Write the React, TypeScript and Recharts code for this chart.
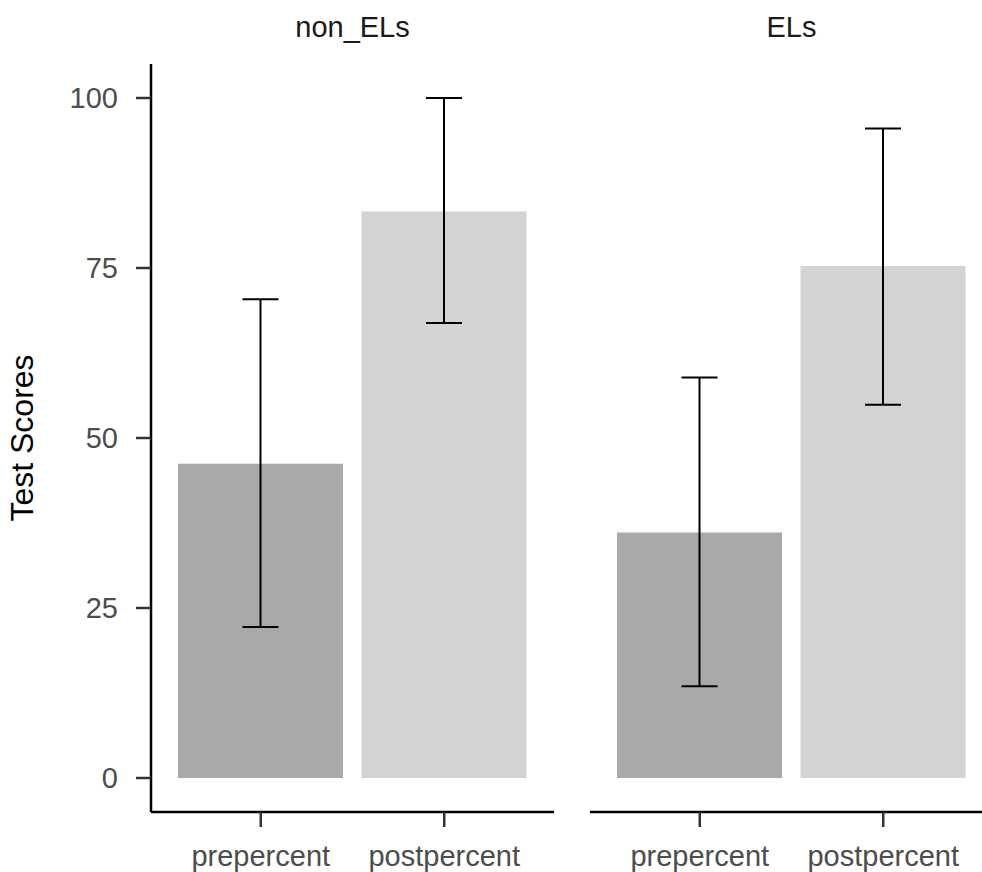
import React from 'react';
import { BarChart, Bar, XAxis, YAxis, ErrorBar, Cell, Label } from 'recharts';

const conditions = ['prepercent', 'postpercent'];
const panelNames = ['non_ELs', 'ELs'];
const nonELsMeans = [46.2, 83.3];
const nonELsLower = [22.2, 66.9];
const nonELsUpper = [70.4, 100];
const ELsMeans = [36.1, 75.3];
const ELsLower = [13.5, 54.9];
const ELsUpper = [58.9, 95.5];
const yTicks = [0, 25, 50, 75, 100];
const barColors = ['#A9A9A9', '#D3D3D3'];

const FONT = '"Liberation Sans", Arial, Helvetica, sans-serif';
const PANEL_W = 403;
const Y_AXIS_W = 151;
const PANEL2_LEFT = 590;

const buildRows = (means: number[], lower: number[], upper: number[]) =>
  conditions.map((c, i) => ({
    condition: c,
    score: means[i],
    err: [means[i] - lower[i], upper[i] - means[i]],
  }));

const panelRows = [
  buildRows(nonELsMeans, nonELsLower, nonELsUpper),
  buildRows(ELsMeans, ELsLower, ELsUpper),
];

const TitleLabel = (props: any) => {
  const vb = props.viewBox || { x: 0, y: 64, width: 151, height: 748 };
  const cx = vb.x + 33;
  const cy = vb.y + vb.height / 2;
  return (
    <text
      x={cx}
      y={cy}
      transform={`rotate(-90 ${cx} ${cy})`}
      textAnchor="middle"
      fontSize={32}
      fontFamily={FONT}
      fill="#000"
    >
      Test Scores
    </text>
  );
};

function Panel({ rows, showY, left }: { rows: any[]; showY: boolean; left: number }) {
  return (
    <div style={{ position: 'absolute', left, top: 0 }}>
      <BarChart
        width={PANEL_W + (showY ? Y_AXIS_W : 0)}
        height={872}
        data={rows}
        margin={{ top: 64, right: 0, bottom: 0, left: 0 }}
      >
        <XAxis
          dataKey="condition"
          padding={{ left: 18, right: 18 }}
          height={60}
          tickSize={15}
          tickMargin={18}
          interval={0}
          axisLine={{ stroke: '#000', strokeWidth: 2.5 }}
          tickLine={{ stroke: '#333', strokeWidth: 2.5 }}
          tick={{ fill: '#4D4D4D', fontSize: 29, fontFamily: FONT }}
        />
        <YAxis
          hide={!showY}
          width={Y_AXIS_W}
          domain={[-5, 105]}
          ticks={yTicks}
          interval={0}
          tickSize={15}
          tickMargin={18}
          axisLine={{ stroke: '#000', strokeWidth: 2.5 }}
          tickLine={{ stroke: '#333', strokeWidth: 2.5 }}
          tick={{ fill: '#4D4D4D', fontSize: 29, fontFamily: FONT }}
        >
          {showY ? <Label content={<TitleLabel />} /> : null}
        </YAxis>
        <Bar dataKey="score" barSize={165} isAnimationActive={false}>
          {rows.map((r, i) => (
            <Cell key={r.condition} fill={barColors[i]} />
          ))}
          <ErrorBar dataKey="err" width={18} stroke="#000" strokeWidth={2} direction="y" />
        </Bar>
      </BarChart>
    </div>
  );
}

export default function App() {
  const stripCenters = [Y_AXIS_W + PANEL_W / 2, PANEL2_LEFT + PANEL_W / 2];
  return (
    <div
      style={{
        position: 'absolute',
        left: 0,
        top: 0,
        width: 982,
        height: 872,
        overflow: 'hidden',
        background: '#fff',
      }}
    >
      <Panel rows={panelRows[0]} showY={true} left={0} />
      <Panel rows={panelRows[1]} showY={false} left={PANEL2_LEFT} />
      <svg
        width={982}
        height={60}
        style={{ position: 'absolute', left: 0, top: 0, pointerEvents: 'none' }}
      >
        {panelNames.map((name, i) => (
          <text
            key={name}
            x={stripCenters[i]}
            y={37}
            textAnchor="middle"
            fontSize={29}
            fontFamily={FONT}
            fill="#1A1A1A"
          >
            {name}
          </text>
        ))}
      </svg>
    </div>
  );
}
